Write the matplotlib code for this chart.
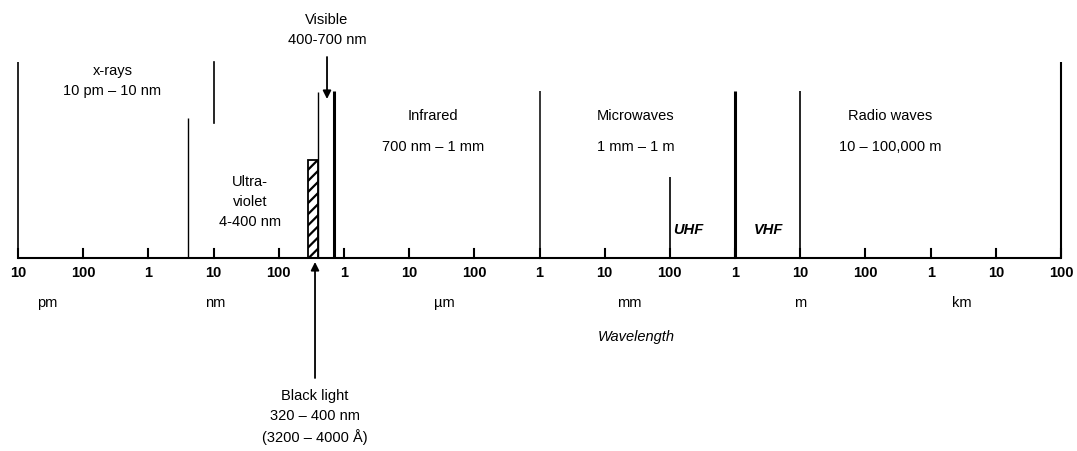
import matplotlib
matplotlib.use("Agg")
import matplotlib.pyplot as plt
from matplotlib.patches import Rectangle

# ---------------- data ----------------
tick_wavelengths_m = [1e-11, 1e-10, 1e-9, 1e-8, 1e-7, 1e-6, 1e-5, 1e-4,
                      1e-3, 1e-2, 1e-1, 1e0, 1e1, 1e2, 1e3, 1e4, 1e5]
tick_labels = ["10", "100", "1", "10", "100", "1", "10", "100",
               "1", "10", "100", "1", "10", "100", "1", "10", "100"]
unit_labels = ["pm", "nm", "\u00b5m", "mm", "m", "km"]
unit_wavelengths_m = [2.8e-11, 1.05e-8, 3.5e-5, 2.4e-2, 1e1, 3.0e3]

# band boundaries (m)
boundary_wavelengths_m = [1e-11, 4e-9, 4e-7, 7e-7, 1e-3, 1e-1, 1e0, 1e1, 1e5]
xray_upper_m = 1e-8
black_light_range_m = [280e-9, 400e-9]   # hatched band as drawn
visible_center_m = 550e-9
black_light_arrow_m = 360e-9

band_names = ["x-rays\n10 pm \u2013 10 nm", "Ultra-\nviolet\n4-400 nm",
              "Visible\n400-700 nm", "Infrared", "700 nm \u2013 1 mm",
              "Microwaves", "1 mm \u2013 1 m", "Radio waves",
              "10 \u2013 100,000 m"]
band_label_wavelengths_m = [2.8e-10, 3.6e-8, 5.5e-7, 2.3e-5, 2.3e-5,
                            3.0e-2, 3.0e-2, 2.4e2, 2.4e2]
sub_bands = ["UHF", "VHF"]
sub_band_wavelengths_m = [1.9e-1, 3.2e0]
black_light_text = "Black light\n320 \u2013 400 nm\n(3200 \u2013 4000 \u00c5)"

# ---------------- layout ----------------
plt.rcParams["hatch.linewidth"] = 1.6
W, H = 1077, 451
fig = plt.figure(figsize=(W / 100, H / 100), dpi=100)
ax = fig.add_axes([0, 0, 1, 1])
ax.set_xscale("log")
ppd = (1061 - 18) / 16.0
ax.set_xlim(10 ** (-11 - 18 / ppd), 10 ** (5 + 16 / ppd))
ax.set_ylim(H, 0)
ax.axis("off")

FONT = "Liberation Sans"
base_y = 258
fs = 10.5

# baseline
ax.plot([tick_wavelengths_m[0], tick_wavelengths_m[-1]], [base_y, base_y],
        color="black", lw=1.5, solid_capstyle="butt")

# ticks and labels
for w, lab in zip(tick_wavelengths_m, tick_labels):
    ax.plot([w, w], [base_y, base_y - 9], color="black", lw=1.5)
    ax.text(w, 273, lab, ha="center", va="center", fontsize=10.5,
            fontweight="bold", family=FONT)

for w, lab in zip(unit_wavelengths_m, unit_labels):
    ax.text(w, 303, lab, ha="center", va="center", fontsize=fs, family=FONT)

ax.text(3.0e-2, 337, "Wavelength", ha="center", va="center", fontsize=fs,
        style="italic", family=FONT)

# boundary lines (top y in pixel units, widths)
tops = [62, 118, 92, 91, 91, 177, 91, 91, 62]
widths = [1.2, 1.0, 1.0, 2.2, 1.1, 1.2, 2.2, 1.2, 1.5]
for w, t, lw in zip(boundary_wavelengths_m, tops, widths):
    ax.plot([w, w], [base_y, t], color="black", lw=lw, solid_capstyle="butt")
# x-ray upper boundary segment (floating)
ax.plot([xray_upper_m, xray_upper_m], [62, 123], color="black", lw=1.2)

# black light hatched band
bl0, bl1 = black_light_range_m
ax.add_patch(Rectangle((bl0, 160), bl1 - bl0, base_y - 160,
                       facecolor="white", edgecolor="black", hatch="///",
                       lw=1.3))

# arrows
ax.annotate("", xy=(visible_center_m, 99), xytext=(visible_center_m, 57),
            arrowprops=dict(arrowstyle="-|>", color="black", lw=1.3,
                            mutation_scale=12, shrinkA=0, shrinkB=0))
ax.annotate("", xy=(black_light_arrow_m, 262), xytext=(black_light_arrow_m, 378),
            arrowprops=dict(arrowstyle="-|>", color="black", lw=1.3,
                            mutation_scale=12, shrinkA=0, shrinkB=0))

# band labels
band_ys = [81, 202, 30, 116, 147, 116, 147, 116, 147]
for name, w, y in zip(band_names, band_label_wavelengths_m, band_ys):
    ax.text(w, y, name, ha="center", va="center", fontsize=fs, family=FONT,
            linespacing=1.5)

for name, w in zip(sub_bands, sub_band_wavelengths_m):
    ax.text(w, 230, name, ha="center", va="center", fontsize=fs,
            style="italic", fontweight="bold", family=FONT)

ax.text(black_light_arrow_m, 417, black_light_text, ha="center", va="center",
        fontsize=fs, family=FONT, linespacing=1.5)

fig.savefig("out.png", dpi=100)
